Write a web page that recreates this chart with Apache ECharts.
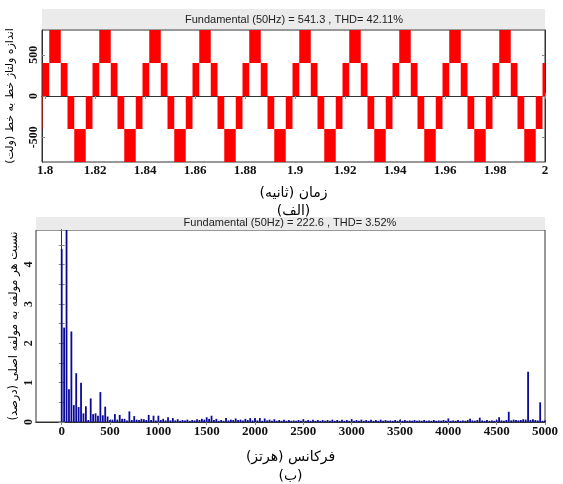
<!DOCTYPE html>
<html><head><meta charset="utf-8">
<script src="https://cdn.jsdelivr.net/npm/echarts@6/dist/echarts.min.js"></script>
<style>html,body{margin:0;padding:0;background:#fff}#c{width:563px;height:484px}</style>
</head><body><div id="c"></div>
<script>
const topTitle = 'Fundamental (50Hz) = 541.3 , THD= 42.11%';
const topXTicks = [1.8, 1.82, 1.84, 1.86, 1.88, 1.9, 1.92, 1.94, 1.96, 1.98, 2];
const topYTicks = [-500, 0, 500];
const bandEdges = [
  1.7963, 1.7990, 1.8017, 1.8063, 1.8090, 1.8117, 1.8163,
  1.8190, 1.8217, 1.8263, 1.8290, 1.8317, 1.8363,
  1.8390, 1.8417, 1.8463, 1.8490, 1.8517, 1.8563,
  1.8590, 1.8617, 1.8663, 1.8690, 1.8717, 1.8763,
  1.8790, 1.8817, 1.8863, 1.8890, 1.8917, 1.8963,
  1.8990, 1.9017, 1.9063, 1.9090, 1.9117, 1.9163,
  1.9190, 1.9217, 1.9263, 1.9290, 1.9317, 1.9363,
  1.9390, 1.9417, 1.9463, 1.9490, 1.9517, 1.9563,
  1.9590, 1.9617, 1.9663, 1.9690, 1.9717, 1.9763,
  1.9790, 1.9817, 1.9863, 1.9890, 1.9917, 1.9963,
  1.9990, 2.0017
];
const bandLow = [
  -400,
  0, 400, 0, -400, -800, -400,
  0, 400, 0, -400, -800, -400,
  0, 400, 0, -400, -800, -400,
  0, 400, 0, -400, -800, -400,
  0, 400, 0, -400, -800, -400,
  0, 400, 0, -400, -800, -400,
  0, 400, 0, -400, -800, -400,
  0, 400, 0, -400, -800, -400,
  0, 400, 0, -400, -800, -400,
  0, 400, 0, -400, -800, -400,
  0
];
const bandHigh = [
  0,
  400, 800, 400, 0, -400, 0,
  400, 800, 400, 0, -400, 0,
  400, 800, 400, 0, -400, 0,
  400, 800, 400, 0, -400, 0,
  400, 800, 400, 0, -400, 0,
  400, 800, 400, 0, -400, 0,
  400, 800, 400, 0, -400, 0,
  400, 800, 400, 0, -400, 0,
  400, 800, 400, 0, -400, 0,
  400, 800, 400, 0, -400, 0,
  400
];

const botTitle = 'Fundamental (50Hz) = 222.6 , THD= 3.52%';
const botXTicks = [0, 500, 1000, 1500, 2000, 2500, 3000, 3500, 4000, 4500, 5000];
const harmFreq = [
  0, 25, 50, 75, 100, 125, 150, 175, 200, 225, 250, 275, 300, 325, 350, 375, 400, 425, 450, 475,
  500, 525, 550, 575, 600, 625, 650, 675, 700, 725, 750, 775, 800, 825, 850, 875, 900, 925, 950, 975,
  1000, 1025, 1050, 1075, 1100, 1125, 1150, 1175, 1200, 1225, 1250, 1275, 1300, 1325, 1350, 1375, 1400, 1425, 1450, 1475,
  1500, 1525, 1550, 1575, 1600, 1625, 1650, 1675, 1700, 1725, 1750, 1775, 1800, 1825, 1850, 1875, 1900, 1925, 1950, 1975,
  2000, 2025, 2050, 2075, 2100, 2125, 2150, 2175, 2200, 2225, 2250, 2275, 2300, 2325, 2350, 2375, 2400, 2425, 2450, 2475,
  2500, 2525, 2550, 2575, 2600, 2625, 2650, 2675, 2700, 2725, 2750, 2775, 2800, 2825, 2850, 2875, 2900, 2925, 2950, 2975,
  3000, 3025, 3050, 3075, 3100, 3125, 3150, 3175, 3200, 3225, 3250, 3275, 3300, 3325, 3350, 3375, 3400, 3425, 3450, 3475,
  3500, 3525, 3550, 3575, 3600, 3625, 3650, 3675, 3700, 3725, 3750, 3775, 3800, 3825, 3850, 3875, 3900, 3925, 3950, 3975,
  4000, 4025, 4050, 4075, 4100, 4125, 4150, 4175, 4200, 4225, 4250, 4275, 4300, 4325, 4350, 4375, 4400, 4425, 4450, 4475,
  4500, 4525, 4550, 4575, 4600, 4625, 4650, 4675, 4700, 4725, 4750, 4775, 4800, 4825, 4850, 4875, 4900, 4925, 4950, 4975,
  5000
];
const harmMag = [
  4.40, 2.40, 4.88, 0.83, 2.30, 0.43, 1.24, 0.38, 1.00, 0.22, 0.40, 0.05, 0.60, 0.20, 0.22, 0.16, 0.76, 0.17, 0.39, 0.14,
  0.05, 0.06, 0.20, 0.06, 0.18, 0.08, 0.08, 0.04, 0.27, 0.05, 0.15, 0.06, 0.05, 0.08, 0.07, 0.05, 0.18, 0.05, 0.16, 0.04,
  0.16, 0.05, 0.08, 0.04, 0.12, 0.04, 0.10, 0.04, 0.07, 0.03, 0.05, 0.04, 0.06, 0.03, 0.05, 0.04, 0.07, 0.05, 0.08, 0.06,
  0.12, 0.08, 0.16, 0.05, 0.08, 0.03, 0.05, 0.03, 0.10, 0.04, 0.06, 0.05, 0.09, 0.05, 0.06, 0.04, 0.08, 0.05, 0.10, 0.04,
  0.10, 0.04, 0.10, 0.03, 0.09, 0.04, 0.06, 0.03, 0.07, 0.03, 0.05, 0.03, 0.06, 0.03, 0.05, 0.03, 0.04, 0.03, 0.05, 0.03,
  0.07, 0.03, 0.05, 0.03, 0.06, 0.03, 0.05, 0.03, 0.05, 0.03, 0.05, 0.03, 0.06, 0.03, 0.05, 0.03, 0.06, 0.03, 0.05, 0.03,
  0.07, 0.03, 0.05, 0.03, 0.06, 0.03, 0.05, 0.03, 0.06, 0.03, 0.05, 0.03, 0.06, 0.03, 0.05, 0.03, 0.04, 0.03, 0.05, 0.03,
  0.06, 0.03, 0.05, 0.03, 0.04, 0.03, 0.05, 0.03, 0.04, 0.03, 0.05, 0.03, 0.04, 0.03, 0.05, 0.03, 0.04, 0.03, 0.05, 0.03,
  0.09, 0.03, 0.04, 0.03, 0.05, 0.03, 0.04, 0.03, 0.05, 0.08, 0.04, 0.03, 0.05, 0.11, 0.04, 0.03, 0.05, 0.03, 0.04, 0.03,
  0.05, 0.12, 0.04, 0.03, 0.05, 0.26, 0.04, 0.06, 0.05, 0.04, 0.05, 0.07, 0.06, 1.28, 0.05, 0.07, 0.05, 0.04, 0.50, 0.03,
  0.04
];

const tickFont = {fontFamily: 'Liberation Serif', fontWeight: 'bold', fontSize: 13, color: '#111'};
const yTickFont = {fontFamily: 'Liberation Serif', fontWeight: 'bold', fontSize: 12, color: '#111', lineHeight: 10};
const faFont = 'DejaVu Sans';
const plain = v => String(v);

const bands = bandLow.map((lo, i) => [bandEdges[i], bandEdges[i + 1], lo, bandHigh[i]]);
const bars = harmFreq.map((f, i) => [f, harmMag[i]]);

const chart = echarts.init(document.getElementById('c'), null, {renderer: 'canvas'});
const axisLineStyle = {lineStyle: {color: '#333', width: 1}};
const innerTick = {show: true, inside: true, length: 3, lineStyle: {color: '#888'}};

chart.setOption({
  animation: false,
  backgroundColor: '#fff',
  grid: [
    {left: 42, top: 30, width: 503, height: 132, outerBoundsMode: 'none', containLabel: false,
     show: true, borderColor: '#333', borderWidth: 1, backgroundColor: '#fff'},
    {left: 36, top: 230, width: 509, height: 192, outerBoundsMode: 'none', containLabel: false,
     show: true, borderColor: '#333', borderWidth: 1, backgroundColor: '#fff'}
  ],
  graphic: [
    {type: 'rect', shape: {x: 42, y: 9, width: 503, height: 20}, style: {fill: '#ebebeb'}, silent: true},
    {type: 'rect', shape: {x: 36, y: 217, width: 509, height: 13}, style: {fill: '#ebebeb'}, silent: true}
  ],
  title: [
    {text: topTitle, left: 294, top: 14, textAlign: 'center', padding: 0,
     textStyle: {fontFamily: 'Liberation Sans', fontSize: 11, fontWeight: 'normal', color: '#222', lineHeight: 12}},
    {text: botTitle, left: 290, top: 217, textAlign: 'center', padding: 0,
     textStyle: {fontFamily: 'Liberation Sans', fontSize: 11, fontWeight: 'normal', color: '#222', lineHeight: 12}}
  ],
  xAxis: [
    {gridIndex: 0, type: 'value', min: 1.7988, max: 2.0, position: 'bottom',
     axisLine: axisLineStyle, splitLine: {show: false},
     axisTick: Object.assign({customValues: topXTicks}, innerTick),
     axisLabel: Object.assign({customValues: topXTicks, margin: 2, formatter: plain}, tickFont),
     name: 'زمان (ثانیه)\n(الف)', nameLocation: 'middle', nameGap: 22, nameMoveOverlap: false,
     nameTextStyle: {fontFamily: faFont, fontSize: 14, color: '#000', lineHeight: 18}},
    {gridIndex: 0, type: 'value', min: 1.7988, max: 2.0, position: 'top',
     axisLine: axisLineStyle, splitLine: {show: false},
     axisTick: Object.assign({customValues: topXTicks}, innerTick),
     axisLabel: {show: false}},
    {gridIndex: 1, type: 'value', min: -266, max: 5000, position: 'bottom',
     axisLine: axisLineStyle, splitLine: {show: false},
     axisTick: Object.assign({customValues: botXTicks}, innerTick),
     axisLabel: Object.assign({customValues: botXTicks, margin: 3, formatter: plain}, tickFont),
     name: 'فرکانس (هرتز)\n(ب)', nameLocation: 'middle', nameGap: 25.5, nameMoveOverlap: false,
     nameTextStyle: {fontFamily: faFont, fontSize: 14, color: '#000', lineHeight: 19}},
    {gridIndex: 1, type: 'value', min: -266, max: 5000, position: 'top',
     axisLine: axisLineStyle, splitLine: {show: false},
     axisTick: Object.assign({customValues: botXTicks}, innerTick),
     axisLabel: {show: false}}
  ],
  yAxis: [
    {gridIndex: 0, type: 'value', min: -800, max: 800, position: 'left',
     axisLine: axisLineStyle, splitLine: {show: false},
     axisTick: Object.assign({customValues: topYTicks}, innerTick),
     axisLabel: Object.assign({customValues: topYTicks, rotate: 90, margin: 3}, yTickFont),
     name: 'اندازه ولتاژ خط به خط (ولت)', nameLocation: 'middle', nameGap: 26, nameMoveOverlap: false,
     nameTextStyle: {fontFamily: faFont, fontSize: 11, color: '#000'}},
    {gridIndex: 0, type: 'value', min: -800, max: 800, position: 'right',
     axisLine: axisLineStyle, splitLine: {show: false},
     axisTick: Object.assign({customValues: topYTicks}, innerTick),
     axisLabel: {show: false}},
    {gridIndex: 1, type: 'value', min: 0, max: 4.88, interval: 1, position: 'left',
     axisLine: axisLineStyle, splitLine: {show: false},
     axisTick: innerTick,
     minorTick: {show: true, splitNumber: 2, length: 3, lineStyle: {color: '#888'}},
     axisLabel: Object.assign({rotate: 90, margin: 2, showMaxLabel: false}, yTickFont),
     name: 'نسبت هر مولفه به مولفه اصلی (درصد)', nameLocation: 'middle', nameGap: 16, nameMoveOverlap: false,
     nameTextStyle: {fontFamily: faFont, fontSize: 11.5, color: '#000'}},
    {gridIndex: 1, type: 'value', min: 0, max: 4.88, interval: 1, position: 'right',
     axisLine: axisLineStyle, splitLine: {show: false},
     axisTick: innerTick,
     minorTick: {show: true, splitNumber: 2, length: 3, lineStyle: {color: '#888'}},
     axisLabel: {show: false}}
  ],
  series: [
    {type: 'custom', xAxisIndex: 0, yAxisIndex: 0, data: bands, clip: true,
     encode: {x: [0, 1], y: [2, 3]},
     renderItem: function (params, api) {
       const p0 = api.coord([api.value(0), api.value(3)]);
       const p1 = api.coord([api.value(1), api.value(2)]);
       const cs = params.coordSys;
       const shape = echarts.graphic.clipRectByRect(
         {x: p0[0], y: p0[1], width: p1[0] - p0[0], height: p1[1] - p0[1]},
         {x: cs.x, y: cs.y, width: cs.width, height: cs.height});
       return shape && {type: 'rect', shape: shape, style: {fill: '#ff0000'}};
     }},
    {type: 'bar', xAxisIndex: 2, yAxisIndex: 2, data: bars, barWidth: 1.8, clip: true,
     itemStyle: {color: '#0a0a9a'}}
  ]
});
</script></body></html>
